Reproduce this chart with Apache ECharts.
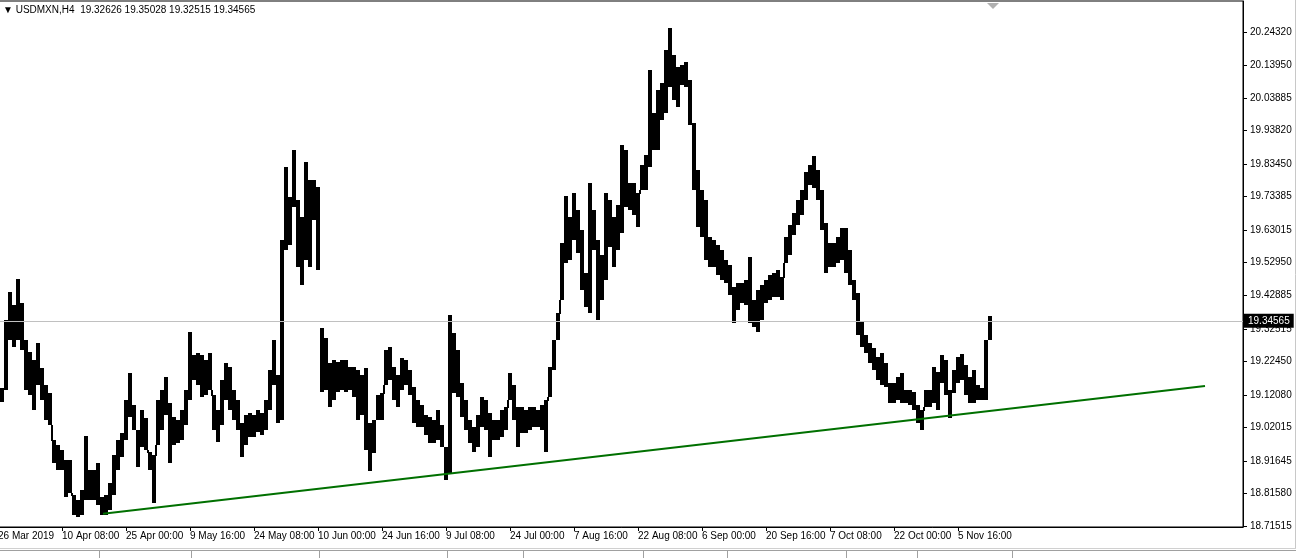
<!DOCTYPE html>
<html><head><meta charset="utf-8">
<script src="https://cdn.jsdelivr.net/npm/echarts@6/dist/echarts.min.js"></script>
<style>html,body{margin:0;padding:0;background:#fff;}#c{width:1296px;height:558px;}</style>
</head><body><div id="c"></div>
<script>
// ---- data ----
const symbolHeader = 'USDMXN,H4';
const headerQuotes = [19.32626, 19.35028, 19.32515, 19.34565];
const lastPrice = 19.34565;

// x-axis tick labels and the H4 bar number at which each one sits
const tickBars = [-2, 62, 126, 190, 254, 318, 382, 446, 510, 574, 638, 702, 766, 830, 894, 958];
const tickLabels = ['26 Mar 2019','10 Apr 08:00','25 Apr 00:00','9 May 16:00','24 May 08:00','10 Jun 00:00',
  '24 Jun 16:00','9 Jul 08:00','24 Jul 00:00','7 Aug 16:00','22 Aug 08:00','6 Sep 00:00','20 Sep 16:00',
  '7 Oct 08:00','22 Oct 00:00','5 Nov 16:00'];

// price-axis labels
const priceLabels = [20.24320, 20.13950, 20.03885, 19.93820, 19.83450, 19.73385, 19.63015, 19.52950,
  19.42885, 19.32515, 19.22450, 19.12080, 19.02015, 18.91645, 18.81580, 18.71515];

// each entry = high / low of a group of 4 consecutive H4 bars
const barsPerGroup = 4;
const highs = [
19.142,19.353,19.439,19.399,19.479,19.405,19.291,19.254,19.229,19.282,
19.204,19.152,19.127,18.982,18.966,18.951,18.920,18.920,18.812,18.796,
18.827,18.994,18.889,18.889,18.910,18.805,18.812,18.849,18.935,18.982,
19.003,19.105,19.189,19.090,19.013,19.074,19.050,18.944,18.935,19.105,
19.136,19.176,19.096,19.053,19.043,19.074,19.136,19.316,19.244,19.251,
19.244,19.229,19.251,19.121,19.074,19.167,19.220,19.207,19.136,19.105,
19.034,19.059,19.065,19.059,19.074,19.065,19.105,19.198,19.291,19.183,
19.600,19.826,19.733,19.878,19.724,19.671,19.841,19.786,19.786,19.764,
19.328,19.297,19.220,19.229,19.223,19.229,19.229,19.207,19.207,19.198,
19.183,19.204,19.034,19.043,19.121,19.127,19.260,19.269,19.207,19.183,
19.235,19.229,19.198,19.145,19.105,19.090,19.059,19.053,19.043,19.074,
19.028,18.960,19.368,19.312,19.260,19.158,19.105,19.043,19.022,19.059,
19.115,19.105,19.065,19.043,19.043,19.074,19.084,19.189,19.152,19.084,
19.084,19.074,19.084,19.084,19.074,19.090,19.105,19.207,19.291,19.374,
19.591,19.736,19.671,19.745,19.693,19.631,19.498,19.776,19.693,19.600,
19.554,19.745,19.724,19.671,19.708,19.894,19.878,19.776,19.776,19.745,
19.832,19.863,20.126,19.993,20.064,20.085,20.188,20.256,20.172,20.135,
20.141,20.150,20.095,19.962,19.816,19.755,19.724,19.609,19.600,19.585,
19.569,19.538,19.523,19.455,19.467,19.467,19.476,19.547,19.414,19.445,
19.461,19.476,19.492,19.498,19.507,19.486,19.609,19.646,19.684,19.724,
19.755,19.810,19.832,19.860,19.816,19.755,19.653,19.591,19.591,19.609,
19.637,19.637,19.569,19.476,19.436,19.346,19.306,19.282,19.266,19.238,
19.251,19.220,19.158,19.158,19.176,19.189,19.136,19.136,19.130,19.090,
19.074,19.136,19.136,19.207,19.192,19.244,19.229,19.136,19.198,19.238,
19.248,19.214,19.176,19.198,19.152,19.142,19.291,19.365
];
const lows = [
19.099,19.136,19.291,19.269,19.291,19.260,19.136,19.121,19.074,19.152,
19.105,19.043,19.028,18.910,18.889,18.889,18.805,18.818,18.750,18.743,
18.750,18.796,18.796,18.796,18.781,18.750,18.750,18.765,18.812,18.889,
18.929,18.982,19.053,19.013,18.898,18.960,18.951,18.889,18.787,18.966,
19.013,19.059,18.910,18.966,18.972,18.982,19.028,19.105,19.167,19.152,
19.115,19.121,19.136,19.013,18.975,19.028,19.105,19.074,19.043,19.013,
18.929,18.966,18.991,18.991,19.006,18.997,19.013,19.074,19.152,19.034,
19.043,19.569,19.585,19.702,19.517,19.461,19.538,19.517,19.662,19.507,
19.130,19.136,19.084,19.105,19.130,19.136,19.130,19.136,19.115,19.043,
19.059,18.951,18.886,18.941,19.043,19.043,19.152,19.167,19.105,19.084,
19.136,19.152,19.121,19.034,19.022,19.022,18.997,18.972,18.972,18.982,
18.960,18.858,18.880,19.127,19.115,19.053,19.013,18.972,18.944,18.960,
19.022,19.013,18.929,18.982,18.982,18.991,19.013,19.105,19.043,18.960,
19.003,19.003,19.013,19.022,19.022,19.013,18.944,19.115,19.198,19.291,
19.414,19.529,19.538,19.600,19.560,19.445,19.393,19.374,19.569,19.353,
19.414,19.476,19.578,19.517,19.569,19.622,19.702,19.693,19.677,19.640,
19.755,19.755,19.826,19.878,19.878,19.971,19.993,20.073,20.033,20.011,
20.079,20.073,19.956,19.755,19.640,19.609,19.538,19.517,19.517,19.492,
19.476,19.467,19.430,19.343,19.384,19.405,19.399,19.343,19.331,19.316,
19.353,19.405,19.414,19.424,19.424,19.414,19.529,19.554,19.615,19.646,
19.677,19.724,19.770,19.761,19.724,19.631,19.498,19.517,19.517,19.529,
19.538,19.498,19.461,19.414,19.306,19.269,19.251,19.220,19.198,19.167,
19.152,19.145,19.096,19.096,19.105,19.096,19.096,19.090,19.074,19.034,
19.013,19.084,19.084,19.096,19.074,19.158,19.121,19.050,19.127,19.158,
19.167,19.121,19.096,19.096,19.105,19.105,19.105,19.291
];

// green trend line: bar number and price of both ends
const trendBars = [103, 1205];
const trendPrices = [18.7528, 19.1486];

// ---- chart ----
const FONT = '"Liberation Sans", Arial, sans-serif';
const barData = highs.map((h, i) => [i * barsPerGroup, lows[i], h]);
const trendData = trendBars.map((b, i) => [b, trendPrices[i]]);
const MAX_JOIN = 0.05; // price moves larger than this are real gaps, not joined

function renderBar(params, api) {
  const i = params.dataIndex;
  const b = api.value(0);
  const lo = api.value(1), hi = api.value(2);
  const top = api.coord([b, hi]);
  const bot = api.coord([b + barsPerGroup, lo]);
  const x0 = Math.round(top[0]), x1 = Math.round(bot[0]);
  const children = [{
    type: 'rect',
    shape: { x: x0, y: Math.round(top[1]), width: x1 - x0, height: Math.max(1, Math.round(bot[1]) - Math.round(top[1])) },
    style: { fill: '#000' }
  }];
  if (i > 0) {
    const pl = lows[i - 1], ph = highs[i - 1];
    let a = null, c = null;
    if (pl > hi && pl - hi < MAX_JOIN) { a = hi; c = pl; }
    else if (ph < lo && lo - ph < MAX_JOIN) { a = ph; c = lo; }
    if (a !== null) {
      const pa = api.coord([b, a]), pc = api.coord([b, c]);
      children.push({
        type: 'rect',
        shape: { x: x0 - 1, y: Math.round(pc[1]), width: 2, height: Math.round(pa[1]) - Math.round(pc[1]) + 1 },
        style: { fill: '#000' }
      });
    }
  }
  return { type: 'group', children };
}

const chart = echarts.init(document.getElementById('c'), null, { renderer: 'canvas' });
chart.setOption({
  animation: false,
  backgroundColor: '#fff',
  title: {
    text: '▼ ' + symbolHeader + '  ' + headerQuotes.map(v => v.toFixed(5)).join(' '),
    left: 3, top: 5, padding: 0,
    textStyle: { fontSize: 10, fontWeight: 'normal', fontFamily: FONT, color: '#000' }
  },
  grid: {
    left: -3, right: 53, top: 1, bottom: 31, show: true, borderColor: '#000', borderWidth: 1,
    containLabel: false, outerBoundsMode: 'none'
  },
  xAxis: {
    type: 'value', min: -3, max: 1243,
    axisLine: { show: true, lineStyle: { color: '#000', width: 1 } },
    axisTick: { show: true, customValues: tickBars, length: 4, lineStyle: { color: '#000' } },
    axisLabel: {
      customValues: tickBars,
      formatter: v => tickLabels[tickBars.indexOf(v)],
      align: 'left', margin: 4, color: '#000', fontSize: 10, fontFamily: FONT
    },
    splitLine: { show: false }
  },
  yAxis: {
    type: 'value', position: 'right', min: 18.7121, max: 20.3391,
    axisLine: { show: true, onZero: false, lineStyle: { color: '#000' } },
    axisTick: { show: true, customValues: priceLabels, length: 4, lineStyle: { color: '#000' } },
    axisLabel: {
      customValues: priceLabels, formatter: v => v.toFixed(5),
      margin: 7, color: '#000', fontSize: 10, fontFamily: FONT
    },
    splitLine: { show: false }
  },
  series: [
    {
      type: 'line', z: 1, data: [[barData[barData.length - 1][0], lastPrice]],
      symbol: 'none', lineStyle: { opacity: 0 }, silent: true,
      markLine: {
        silent: true, symbol: ['none', 'none'], animation: false,
        lineStyle: { color: '#c0c0c0', width: 1, type: 'solid' },
        label: {
          position: 'end', distance: 1, formatter: lastPrice.toFixed(5),
          backgroundColor: '#000', color: '#fff', padding: [2, 4, 2, 4],
          fontSize: 10, fontFamily: FONT
        },
        data: [{ yAxis: lastPrice }]
      }
    },
    { type: 'custom', z: 3, renderItem: renderBar, data: barData, encode: { x: 0, y: [1, 2] }, silent: true },
    {
      type: 'line', z: 4, data: trendData, symbol: 'none', silent: true,
      lineStyle: { color: '#007000', width: 2 }
    }
  ],
  graphic: [
    { type: 'polygon', shape: { points: [[987, 3], [999, 3], [993, 9]] }, style: { fill: '#b0b0b0' } },
    { type: 'line', shape: { x1: 1295.5, y1: 0, x2: 1295.5, y2: 549 }, style: { stroke: '#c8c8c8', lineWidth: 1 } },
    { type: 'line', shape: { x1: 0, y1: 548.5, x2: 1296, y2: 548.5 }, style: { stroke: '#d0d0d0', lineWidth: 1 } },
    { type: 'line', shape: { x1: 0, y1: 550.5, x2: 1296, y2: 550.5 }, style: { stroke: '#a0a0a0', lineWidth: 1 } },
    ...[99, 191, 319, 447, 523, 643, 727, 846, 917, 1012].map(x => ({
      type: 'line', shape: { x1: x + 0.5, y1: 551, x2: x + 0.5, y2: 558 }, style: { stroke: '#a0a0a0', lineWidth: 1 }
    }))
  ]
});
</script></body></html>
